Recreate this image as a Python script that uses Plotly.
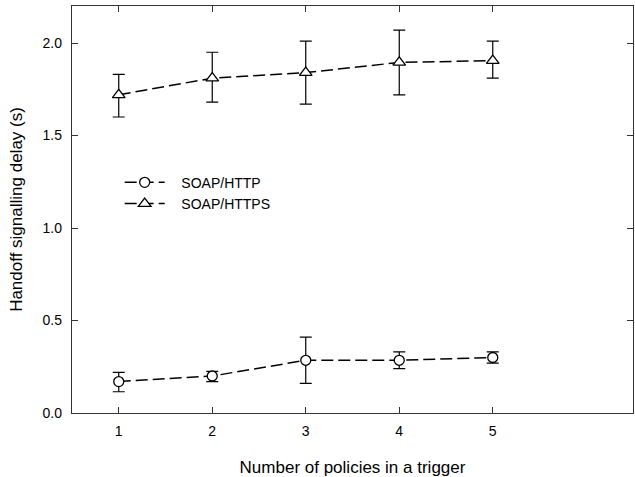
import plotly.graph_objects as go

policies = [1, 2, 3, 4, 5]
http_mean = [0.17, 0.20, 0.285, 0.285, 0.30]
http_upper = [0.22, 0.225, 0.41, 0.33, 0.33]
http_lower = [0.115, 0.17, 0.16, 0.24, 0.27]
https_mean = [1.72, 1.81, 1.84, 1.895, 1.905]
https_upper = [1.83, 1.95, 2.01, 2.07, 2.01]
https_lower = [1.60, 1.68, 1.67, 1.72, 1.81]
y_ticks = [0.0, 0.5, 1.0, 1.5, 2.0]
series_names = ["SOAP/HTTP", "SOAP/HTTPS"]


def err(mean, up, lo):
    return dict(type="data", symmetric=False,
                array=[u - m for u, m in zip(up, mean)],
                arrayminus=[m - l for m, l in zip(mean, lo)],
                color="black", thickness=1.2, width=6)


pad = "\u00a0\u00a0\u00a0"
fig = go.Figure()
fig.add_trace(go.Scatter(
    x=policies, y=http_mean, name=pad + series_names[0], mode="lines+markers",
    line=dict(color="black", width=1.5, dash="12px,5px"),
    marker=dict(symbol="circle", size=10, color="white", line=dict(width=1.3, color="black")),
    error_y=err(http_mean, http_upper, http_lower)))
fig.add_trace(go.Scatter(
    x=policies, y=https_mean, name=pad + series_names[1], mode="lines+markers",
    line=dict(color="black", width=1.5, dash="12px,5px"),
    marker=dict(symbol="triangle-up", size=11, color="white", line=dict(width=1.3, color="black")),
    error_y=err(https_mean, https_upper, https_lower)))

axis_common = dict(showline=True, linecolor="#333", linewidth=1.3, mirror="ticks",
                   ticks="inside", ticklen=6, tickcolor="#333", showgrid=False,
                   zeroline=False,
                   tickfont=dict(family="Liberation Sans, Arial", size=14, color="black"))

fig.update_layout(
    width=635, height=477,
    margin=dict(l=72, r=2, t=6, b=64),
    plot_bgcolor="white", paper_bgcolor="white",
    font=dict(family="Liberation Sans, Arial", color="black"),
    xaxis=dict(range=[0.5, 6.5], tickvals=policies, ticktext=[str(p) for p in policies],
               ticklabelstandoff=5,
               title=dict(text="Number of policies in a trigger", font=dict(size=17), standoff=24),
               **axis_common),
    yaxis=dict(range=[0, 2.2], tickvals=y_ticks, ticktext=[f"{v:.1f}" for v in y_ticks],
               ticklabelstandoff=6,
               title=dict(text="Handoff signalling delay (s)", font=dict(size=17), standoff=15),
               **axis_common),
    legend=dict(x=0.085, y=0.605, xanchor="left", yanchor="top", bgcolor="rgba(0,0,0,0)",
                font=dict(size=14), itemwidth=40, tracegroupgap=0),
    showlegend=True,
)

fig.write_html("out.html")
